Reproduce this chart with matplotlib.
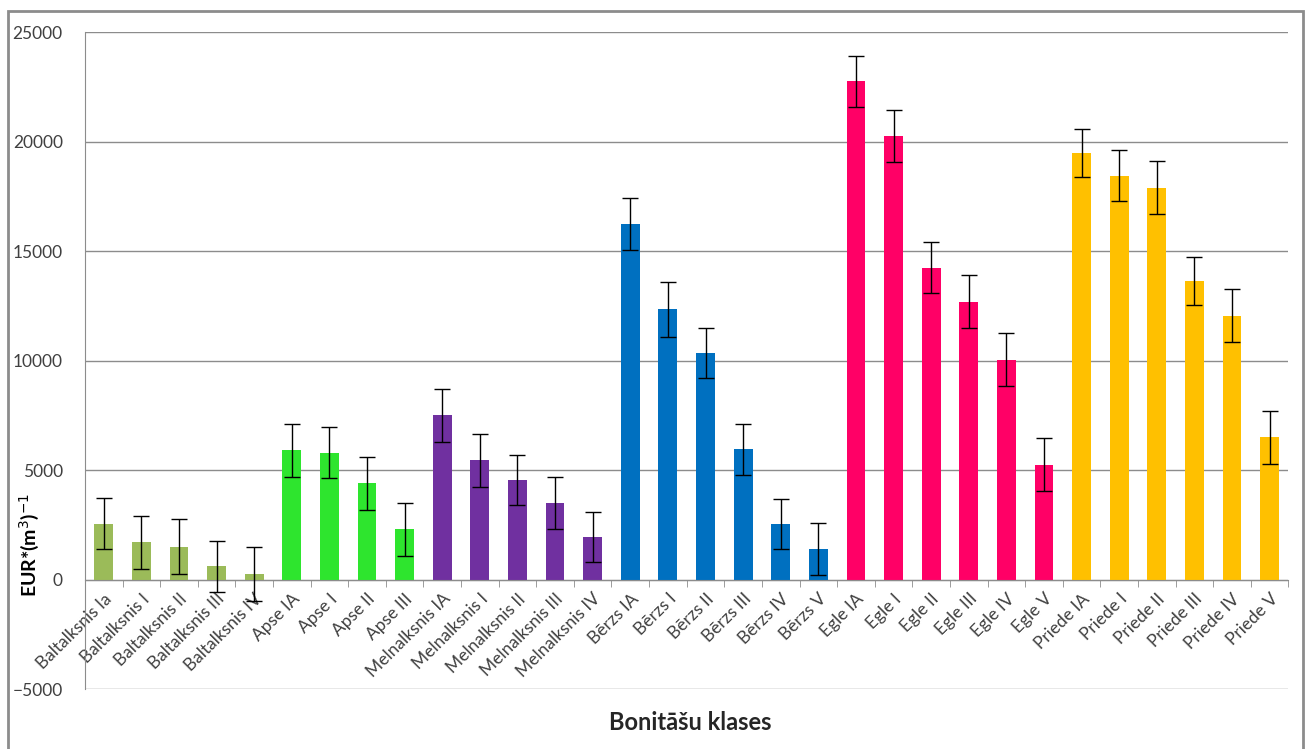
import numpy as np
import matplotlib
matplotlib.use("Agg")
import matplotlib.pyplot as plt
from matplotlib.patches import Rectangle

plt.rcParams['font.family'] = ['Lato', 'DejaVu Sans']

labels = ["Baltalksnis Ia", "Baltalksnis I", "Baltalksnis II", "Baltalksnis III", "Baltalksnis IV",
          "Apse IA", "Apse I", "Apse II", "Apse III",
          "Melnalksnis IA", "Melnalksnis I", "Melnalksnis II", "Melnalksnis III", "Melnalksnis IV",
          "Bērzs IA", "Bērzs I", "Bērzs II", "Bērzs III", "Bērzs IV", "Bērzs V",
          "Egle IA", "Egle I", "Egle II", "Egle III", "Egle IV", "Egle V",
          "Priede IA", "Priede I", "Priede II", "Priede III", "Priede IV", "Priede V"]
values = [2550, 1700, 1500, 600, 250,
          5900, 5800, 4400, 2300,
          7500, 5450, 4550, 3500, 1950,
          16250, 12350, 10350, 5950, 2550, 1400,
          22750, 20250, 14250, 12700, 10050, 5250,
          19500, 18450, 17900, 13650, 12050, 6500]
errors = [1170, 1200, 1250, 1150, 1250,
          1200, 1150, 1200, 1200,
          1200, 1200, 1150, 1200, 1150,
          1200, 1250, 1150, 1150, 1150, 1200,
          1150, 1200, 1150, 1200, 1200, 1200,
          1100, 1150, 1200, 1100, 1200, 1200]
groups = ["Baltalksnis"] * 5 + ["Apse"] * 4 + ["Melnalksnis"] * 5 + ["Bērzs"] * 6 + ["Egle"] * 6 + ["Priede"] * 6
group_colors = {"Baltalksnis": "#9BBB59", "Apse": "#2EE52E", "Melnalksnis": "#7030A0",
                "Bērzs": "#0070C0", "Egle": "#FF0066", "Priede": "#FFC000"}

fig = plt.figure(figsize=(13.08, 7.49), dpi=100)
ax = fig.add_axes([0.065, 0.080, 0.92, 0.877])

x = np.arange(len(labels))
ax.bar(x, values, width=0.5, color=[group_colors[g] for g in groups], zorder=2)
ax.errorbar(x, values, yerr=errors, fmt='none', ecolor='black', elinewidth=1,
            capsize=6, capthick=1, zorder=3)

ax.set_xlim(-0.5, len(labels) - 0.5)
ax.set_ylim(-5000, 25000)
ax.set_yticks(np.arange(-5000, 25001, 5000))
ax.grid(axis='y', color='#8c8c8c', linewidth=1, zorder=0)
ax.tick_params(axis='y', length=0, labelsize=12.5, labelcolor='#404040', pad=16)

ax.spines['bottom'].set_position(('data', 0))
ax.spines['bottom'].set_color('#8c8c8c')
ax.spines['left'].set_color('#8c8c8c')
ax.spines['top'].set_visible(False)
ax.spines['right'].set_visible(False)

ax.set_xticks(x)
ax.set_xticklabels(labels, rotation=45, ha='right', rotation_mode='anchor',
                   fontsize=12.5, color='#404040')
ax.tick_params(axis='x', which='major', length=0, pad=8)
ax.set_xticks(np.arange(-0.5, len(labels), 1), minor=True)
ax.tick_params(axis='x', which='minor', length=5, color='#8c8c8c', direction='out')

fig.text(0.022, 0.272, "EUR*(m$^3$)$^{-1}$", rotation=90, fontsize=14, fontweight='bold',
         ha='center', va='center', color='black')
fig.text(0.528, 0.035, "Bonitāšu klases", fontsize=17, fontweight='bold',
         ha='center', va='center', color='#262626')

fig.patches.append(Rectangle((0.006, -0.01), 0.99, 0.995, transform=fig.transFigure,
                             fill=False, edgecolor='#8c8c8c', linewidth=2))

fig.savefig("out.png", dpi=100)
